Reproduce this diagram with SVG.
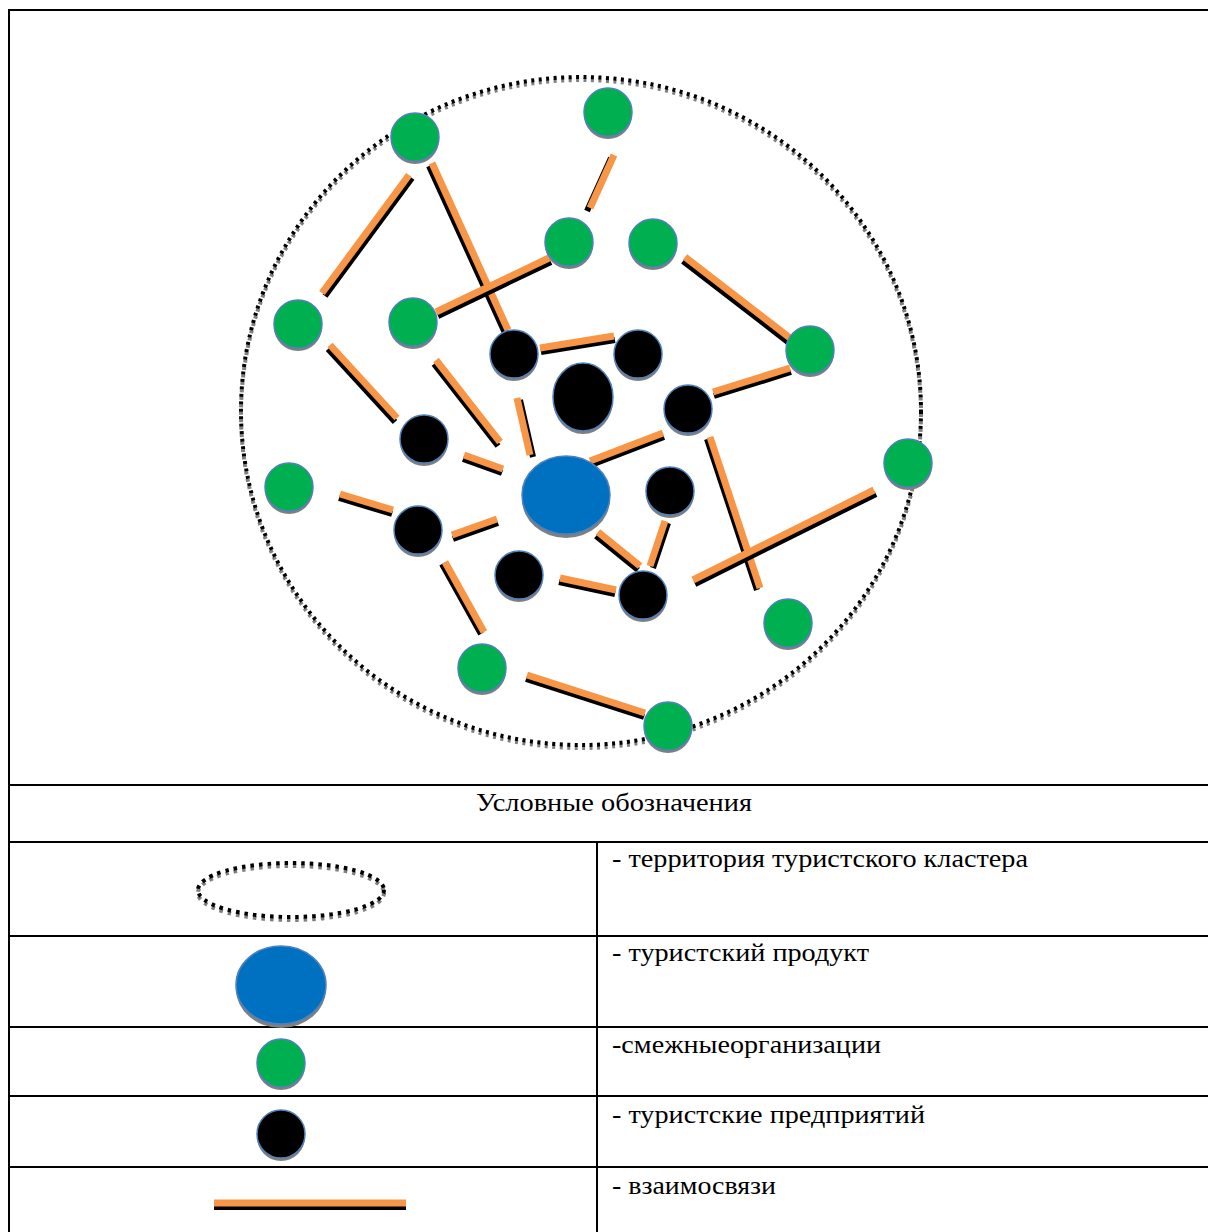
<svg xmlns="http://www.w3.org/2000/svg" width="1208" height="1232" viewBox="0 0 1208 1232">
  <style>
    .frame { fill: none; stroke: #000; stroke-width: 2; }
    .txt { font-family: "Liberation Serif", "Times New Roman", serif; font-size: 25px; fill: #000; }
    .dots { fill: none; stroke: #000; stroke-width: 4; stroke-dasharray: 3 4.5; }
    .dots-sh { fill: none; stroke: #808080; stroke-width: 4; stroke-dasharray: 3 4.5; }
    .ldots { fill: none; stroke: #000; stroke-width: 4; stroke-dasharray: 3.5 5; }
    .ldots-sh { fill: none; stroke: #808080; stroke-width: 4; stroke-dasharray: 3.5 5; }
    .sh { fill: #7f7f7f; }
    .green { fill: #00B050; stroke: #4F81BD; stroke-width: 1.5; }
    .black { fill: #000; stroke: #4F81BD; stroke-width: 1.5; }
    .blue { fill: #0070C0; stroke: #4F81BD; stroke-width: 1.5; }
    .link-sh { stroke: #000; stroke-width: 6; }
    .link { stroke: #F79646; stroke-width: 7; }
  </style>

  <!-- table frame -->
  <g id="table">
    <rect class="frame" x="9" y="10" width="1210" height="1230"/>
    <line class="frame" x1="8" y1="785" x2="1208" y2="785"/>
    <line class="frame" x1="8" y1="842" x2="1208" y2="842"/>
    <line class="frame" x1="8" y1="936" x2="1208" y2="936"/>
    <line class="frame" x1="8" y1="1027" x2="1208" y2="1027"/>
    <line class="frame" x1="8" y1="1096" x2="1208" y2="1096"/>
    <line class="frame" x1="8" y1="1167" x2="1208" y2="1167"/>
    <line class="frame" x1="597" y1="842" x2="597" y2="1232"/>
  </g>

  <!-- cluster territory -->
  <g id="territory">
    <ellipse class="dots-sh" cx="581" cy="414" rx="340" ry="334"/>
    <ellipse class="dots" cx="581" cy="411" rx="340" ry="334"/>
  </g>

  <!-- links -->
  <g id="connectors">
    <g><line class="link-sh" x1="412" y1="178" x2="325" y2="296"/><line class="link" x1="409" y1="175" x2="322" y2="293"/></g>
    <g><line class="link-sh" x1="429" y1="166" x2="505" y2="333"/><line class="link" x1="432" y1="163" x2="508" y2="330"/></g>
    <g><line class="link-sh" x1="611" y1="158" x2="587" y2="211"/><line class="link" x1="614" y1="155" x2="590" y2="208"/></g>
    <g><line class="link-sh" x1="551" y1="262" x2="438" y2="316"/><line class="link" x1="549" y1="258" x2="436" y2="312"/></g>
    <g><line class="link-sh" x1="683" y1="261" x2="788" y2="342"/><line class="link" x1="685" y1="257" x2="790" y2="338"/></g>
    <g><line class="link-sh" x1="541" y1="352" x2="615" y2="340"/><line class="link" x1="540" y1="348" x2="614" y2="336"/></g>
    <g><line class="link-sh" x1="714" y1="396" x2="791" y2="372"/><line class="link" x1="713" y1="392" x2="790" y2="368"/></g>
    <g><line class="link-sh" x1="328" y1="349" x2="395" y2="422"/><line class="link" x1="330" y1="345" x2="397" y2="418"/></g>
    <g><line class="link-sh" x1="434" y1="364" x2="498" y2="446"/><line class="link" x1="436" y1="360" x2="500" y2="442"/></g>
    <g><line class="link-sh" x1="520" y1="400" x2="533" y2="457"/><line class="link" x1="517" y1="398" x2="530" y2="455"/></g>
    <g><line class="link-sh" x1="591" y1="465" x2="664" y2="437"/><line class="link" x1="590" y1="461" x2="663" y2="433"/></g>
    <g><line class="link-sh" x1="463" y1="459" x2="502" y2="473"/><line class="link" x1="464" y1="455" x2="503" y2="469"/></g>
    <g><line class="link-sh" x1="339" y1="498" x2="392" y2="514"/><line class="link" x1="340" y1="494" x2="393" y2="510"/></g>
    <g><line class="link-sh" x1="453" y1="539" x2="498" y2="523"/><line class="link" x1="452" y1="535" x2="497" y2="519"/></g>
    <g><line class="link-sh" x1="596" y1="536" x2="638" y2="570"/><line class="link" x1="598" y1="532" x2="640" y2="566"/></g>
    <g><line class="link-sh" x1="668" y1="523" x2="653" y2="568"/><line class="link" x1="665" y1="521" x2="650" y2="566"/></g>
    <g><line class="link-sh" x1="559" y1="582" x2="615" y2="594"/><line class="link" x1="560" y1="578" x2="616" y2="590"/></g>
    <g><line class="link-sh" x1="707" y1="439" x2="757" y2="590"/><line class="link" x1="710" y1="437" x2="760" y2="588"/></g>
    <g><line class="link-sh" x1="695" y1="584" x2="876" y2="494"/><line class="link" x1="693" y1="580" x2="874" y2="490"/></g>
    <g><line class="link-sh" x1="442" y1="564" x2="481" y2="634"/><line class="link" x1="445" y1="562" x2="484" y2="632"/></g>
    <g><line class="link-sh" x1="526" y1="679" x2="644" y2="717"/><line class="link" x1="527" y1="675" x2="645" y2="713"/></g>
  </g>

  <!-- tourism product -->
  <g id="product">
    <ellipse class="sh" cx="566" cy="499" rx="44" ry="39"/>
    <ellipse class="blue" cx="566" cy="495" rx="44" ry="39"/>
  </g>

  <!-- tourism enterprises -->
  <g id="enterprise-1"><circle class="sh" cx="514" cy="357" r="24"/><circle class="black" cx="514" cy="354" r="24"/></g>
  <g id="enterprise-2"><circle class="sh" cx="638" cy="357" r="24"/><circle class="black" cx="638" cy="354" r="24"/></g>
  <g id="enterprise-3"><ellipse class="sh" cx="583" cy="400" rx="30" ry="34"/><ellipse class="black" cx="583" cy="397" rx="30" ry="34"/></g>
  <g id="enterprise-4"><circle class="sh" cx="688" cy="412" r="24"/><circle class="black" cx="688" cy="409" r="24"/></g>
  <g id="enterprise-5"><circle class="sh" cx="424" cy="442" r="24"/><circle class="black" cx="424" cy="439" r="24"/></g>
  <g id="enterprise-6"><circle class="sh" cx="670" cy="494" r="24"/><circle class="black" cx="670" cy="491" r="24"/></g>
  <g id="enterprise-7"><circle class="sh" cx="418" cy="533" r="24"/><circle class="black" cx="418" cy="530" r="24"/></g>
  <g id="enterprise-8"><circle class="sh" cx="519" cy="578" r="24"/><circle class="black" cx="519" cy="575" r="24"/></g>
  <g id="enterprise-9"><circle class="sh" cx="643" cy="598" r="24"/><circle class="black" cx="643" cy="595" r="24"/></g>

  <!-- related organisations -->
  <g id="org-1"><circle class="sh" cx="415" cy="140" r="24"/><circle class="green" cx="415" cy="137" r="24"/></g>
  <g id="org-2"><circle class="sh" cx="608" cy="115" r="24"/><circle class="green" cx="608" cy="112" r="24"/></g>
  <g id="org-3"><circle class="sh" cx="569" cy="245" r="24"/><circle class="green" cx="569" cy="242" r="24"/></g>
  <g id="org-4"><circle class="sh" cx="653" cy="246" r="24"/><circle class="green" cx="653" cy="243" r="24"/></g>
  <g id="org-5"><circle class="sh" cx="298" cy="327" r="24"/><circle class="green" cx="298" cy="324" r="24"/></g>
  <g id="org-6"><circle class="sh" cx="413" cy="325" r="24"/><circle class="green" cx="413" cy="322" r="24"/></g>
  <g id="org-7"><circle class="sh" cx="810" cy="353" r="24"/><circle class="green" cx="810" cy="350" r="24"/></g>
  <g id="org-8"><circle class="sh" cx="908" cy="466" r="24"/><circle class="green" cx="908" cy="463" r="24"/></g>
  <g id="org-9"><circle class="sh" cx="289" cy="490" r="24"/><circle class="green" cx="289" cy="487" r="24"/></g>
  <g id="org-10"><circle class="sh" cx="788" cy="626" r="24"/><circle class="green" cx="788" cy="623" r="24"/></g>
  <g id="org-11"><circle class="sh" cx="482" cy="671" r="24"/><circle class="green" cx="482" cy="668" r="24"/></g>
  <g id="org-12"><circle class="sh" cx="668" cy="729" r="24"/><circle class="green" cx="668" cy="726" r="24"/></g>

  <!-- legend -->
  <g id="legend">
    <text class="txt" x="476" y="811" textLength="276" lengthAdjust="spacingAndGlyphs">Условные обозначения</text>

    <g id="legend-territory">
      <ellipse class="ldots-sh" cx="291" cy="893" rx="93" ry="27"/>
      <ellipse class="ldots" cx="291" cy="890" rx="93" ry="27"/>
      <text class="txt" x="612" y="867" textLength="416" lengthAdjust="spacingAndGlyphs">- территория туристского кластера</text>
    </g>
    <g id="legend-product">
      <ellipse class="sh" cx="281" cy="989" rx="45" ry="39"/>
      <ellipse class="blue" cx="281" cy="985" rx="45" ry="39"/>
      <text class="txt" x="612" y="961" textLength="257" lengthAdjust="spacingAndGlyphs">- туристский продукт</text>
    </g>
    <g id="legend-org">
      <circle class="sh" cx="281" cy="1066" r="24"/>
      <circle class="green" cx="281" cy="1063" r="24"/>
      <text class="txt" x="612" y="1053" textLength="269" lengthAdjust="spacingAndGlyphs">-смежныеорганизации</text>
    </g>
    <g id="legend-enterprise">
      <circle class="sh" cx="281" cy="1137" r="24"/>
      <circle class="black" cx="281" cy="1134" r="24"/>
      <text class="txt" x="612" y="1123" textLength="313" lengthAdjust="spacingAndGlyphs">- туристские предприятий</text>
    </g>
    <g id="legend-link">
      <line class="link-sh" x1="214" y1="1207" x2="406" y2="1207"/>
      <line class="link" x1="214" y1="1203" x2="406" y2="1203"/>
      <text class="txt" x="612" y="1194" textLength="164" lengthAdjust="spacingAndGlyphs">- взаимосвязи</text>
    </g>
  </g>
</svg>
